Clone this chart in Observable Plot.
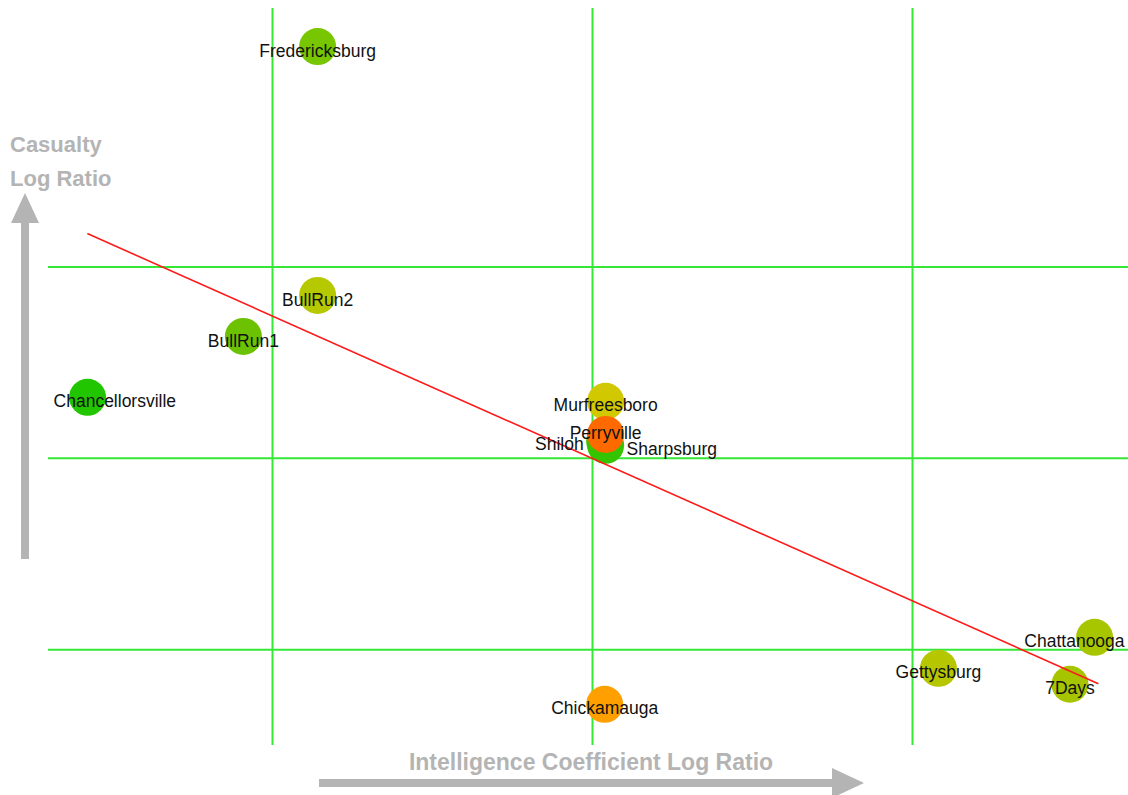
<!DOCTYPE html>
<html>
<head>
<meta charset="utf-8">
<script src="https://cdn.jsdelivr.net/npm/d3@7"></script>
<script src="https://cdn.jsdelivr.net/npm/@observablehq/plot@0.6"></script>
<style>
  html, body { margin: 0; padding: 0; background: #fff; }
  #chart { width: 1128px; height: 795px; overflow: hidden; }
</style>
</head>
<body>
<div id="chart"></div>
<script>
// Civil War battles: intelligence coefficient vs casualty log ratios
const battles = ["Fredericksburg", "BullRun1", "BullRun2", "Chancellorsville", "Shiloh", "Sharpsburg",
                 "Murfreesboro", "Perryville", "Chickamauga", "Gettysburg", "Chattanooga", "7Days"];
const intelRatio =    [-0.859, -1.091, -0.859, -1.578, 0.038, 0.041, 0.041, 0.041, 0.038, 1.081, 1.569, 1.492];
const casualtyRatio = [ 2.151,  0.637,  0.851,  0.319, 0.089, 0.068, 0.298, 0.125, -1.285, -1.097, -0.935, -1.180];
const dotColors = ["#78c600", "#6cc200", "#b6c800", "#22c600", "#40c400", "#34c400",
                   "#d2c800", "#ff6a00", "#ffa000", "#b6c600", "#a8c600", "#a6c400"];

// grid positions on both log-ratio axes
const xTicks = [-1, 0, 1];
const yTicks = [-1, 0, 1];

// least-squares trend line endpoints
const fitX = [-1.577, 1.579];
const fitY = [1.173, -1.176];

const rows = battles.map((name, i) => ({name, intel: intelRatio[i], casualty: casualtyRatio[i], color: dotColors[i]}));
const fit = fitX.map((x, i) => ({x, y: fitY[i]}));

// labels that are nudged aside to stay clear of neighbours or the frame edge
const labelPlacement = {
  Chancellorsville: {textAnchor: "start", dx: -34, dy: 4.5},
  Chattanooga: {textAnchor: "end", dx: 30, dy: 4.5},
  Shiloh: {textAnchor: "end", dx: -21, dy: 3},
  Sharpsburg: {textAnchor: "start", dx: 21, dy: 4.5},
  Perryville: {textAnchor: "middle", dx: 0, dy: -1.5}
};

const labelFont = {fontSize: 17.5, fill: "#111", fontFamily: "'Liberation Sans', Arial, sans-serif"};
const gridColor = "#35e835";
const titleColor = "#b4b4b4";

const marginTop = 8, marginRight = 0, marginBottom = 50, marginLeft = 48;

const chart = Plot.plot({
  width: 1128,
  height: 795,
  marginTop, marginRight, marginBottom, marginLeft,
  x: {domain: [-1.7, 1.675], axis: null},
  y: {domain: [-1.5, 2.35], axis: null},
  color: {type: "identity"},
  style: {background: "#fff", overflow: "visible", fontFamily: "'Liberation Sans', Arial, sans-serif"},
  marks: [
    Plot.ruleX(xTicks, {stroke: gridColor, strokeWidth: 2}),
    Plot.ruleY(yTicks, {stroke: gridColor, strokeWidth: 2}),
    Plot.dot(rows, {x: "intel", y: "casualty", r: 18.5, fill: "color", stroke: null}),
    Plot.line(fit, {x: "x", y: "y", stroke: "#ff1a1a", strokeWidth: 1.6}),
    Plot.text(rows.filter(d => !labelPlacement[d.name]), {
      x: "intel", y: "casualty", text: "name", dy: 4.5, ...labelFont
    }),
    ...Object.entries(labelPlacement).map(([name, place]) =>
      Plot.text(rows.filter(d => d.name === name), {
        x: "intel", y: "casualty", text: "name", ...place, ...labelFont
      })
    )
  ]
});

// axis titles with their grey direction arrows, drawn in the margins
const svg = d3.select(chart);
const deco = svg.append("g").attr("fill", titleColor).attr("text-anchor", "start")
  .attr("font-family", "'Liberation Sans', Arial, sans-serif").attr("font-weight", "bold");

deco.append("text").attr("x", 10).attr("y", 152).attr("font-size", 22).text("Casualty");
deco.append("text").attr("x", 10).attr("y", 186).attr("font-size", 22).text("Log Ratio");
deco.append("rect").attr("x", 21).attr("y", 222).attr("width", 8).attr("height", 337);
deco.append("path").attr("d", "M11,223L25,193L39,223Z");

deco.append("text").attr("x", 591).attr("y", 770).attr("font-size", 23)
  .attr("text-anchor", "middle").text("Intelligence Coefficient Log Ratio");
deco.append("rect").attr("x", 319).attr("y", 779).attr("width", 514).attr("height", 8);
deco.append("path").attr("d", "M832,768L864,783L832,798Z");

document.getElementById("chart").appendChild(chart);
</script>
</body>
</html>
